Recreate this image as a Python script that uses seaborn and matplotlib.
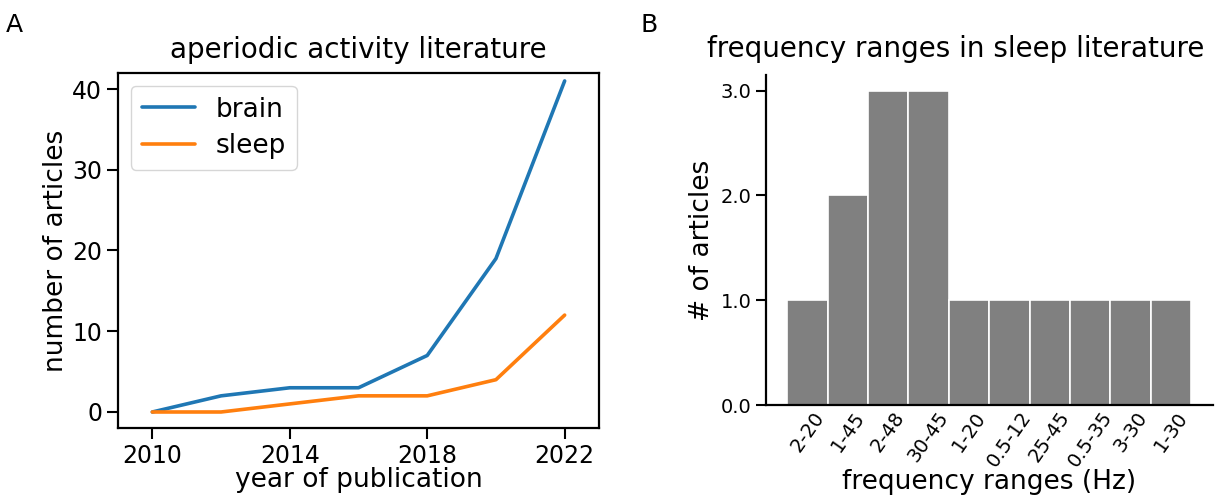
import matplotlib
matplotlib.use("Agg")
import matplotlib.pyplot as plt
import seaborn as sns
import pandas as pd

# publication counts per year
years = [2010, 2012, 2014, 2016, 2018, 2020, 2022]
brain_counts = [0, 2, 3, 3, 7, 19, 41]
sleep_counts = [0, 0, 1, 2, 2, 4, 12]

# frequency ranges used in sleep studies
freq_ranges = ["2-20", "1-45", "2-48", "30-45", "1-20", "0.5-12", "25-45", "0.5-35", "3-30", "1-30"]
range_counts = [1, 2, 3, 3, 1, 1, 1, 1, 1, 1]

sns.set_theme(style="ticks")
plt.rcParams["font.family"] = ["DejaVu Sans"]
plt.rcParams.update({
    "text.color": "black",
    "axes.labelcolor": "black",
    "xtick.color": "black",
    "ytick.color": "black",
    "axes.edgecolor": "black",
})

lines_df = pd.DataFrame({
    "year": years * 2,
    "count": brain_counts + sleep_counts,
    "topic": ["brain"] * len(years) + ["sleep"] * len(years),
})
bars_df = pd.DataFrame({"range": freq_ranges, "count": range_counts})

fig = plt.figure(figsize=(12.2, 4.99), dpi=100)
ax1 = fig.add_axes([0.0967, 0.142, 0.3943, 0.712])
ax2 = fig.add_axes([0.628, 0.188, 0.366, 0.662])

TITLE = 20
LABEL = 19

# panel A: literature growth
sns.lineplot(data=lines_df, x="year", y="count", hue="topic",
             palette=["#1f77b4", "#ff7f0e"], linewidth=2.6, ax=ax1)
ax1.set_xlim(2009, 2023)
ax1.set_ylim(-2, 42)
ax1.set_xticks([2010, 2014, 2018, 2022])
ax1.set_yticks([0, 10, 20, 30, 40])
ax1.set_xlabel("year of publication", fontsize=LABEL, labelpad=-1)
ax1.set_ylabel("number of articles", fontsize=LABEL, labelpad=2)
ax1.set_title("aperiodic activity literature", fontsize=TITLE, pad=11)
ax1.tick_params(axis="both", labelsize=17, length=8, width=1.5, direction="out")
for sp in ax1.spines.values():
    sp.set_linewidth(1.6)
leg = ax1.legend(loc="upper left", fontsize=19, frameon=True, handlelength=2.0,
                 borderpad=0.4, labelspacing=0.4, handletextpad=0.8,
                 borderaxespad=0.5)
leg.get_frame().set_linewidth(1.0)

# panel B: frequency ranges
sns.barplot(data=bars_df, x="range", y="count", color="grey", saturation=1,
            width=1.0, edgecolor="white", linewidth=1.2, ax=ax2)
ax2.set_xlim(-1.02, 10.03)
ax2.set_ylim(0, 3.15)
ax2.set_yticks([0, 1, 2, 3])
ax2.set_yticklabels(["0.0", "1.0", "2.0", "3.0"])
ax2.set_xlabel("frequency ranges (Hz)", fontsize=LABEL, labelpad=-1)
ax2.set_ylabel("# of articles", fontsize=LABEL, labelpad=4)
ax2.set_title("frequency ranges in sleep literature", fontsize=TITLE, pad=13, x=0.424)
ax2.tick_params(axis="y", labelsize=14, length=7, width=1.5, direction="out")
ax2.tick_params(axis="x", labelsize=14, length=8, width=1.5, direction="in", pad=2)
plt.setp(ax2.get_xticklabels(), rotation=55)
sns.despine(ax=ax2)
for side in ["left", "bottom"]:
    ax2.spines[side].set_linewidth(1.6)

fig.text(0.005, 0.935, "A", fontsize=18)
fig.text(0.525, 0.935, "B", fontsize=18)

fig.savefig("out.png", dpi=100, facecolor="white")
